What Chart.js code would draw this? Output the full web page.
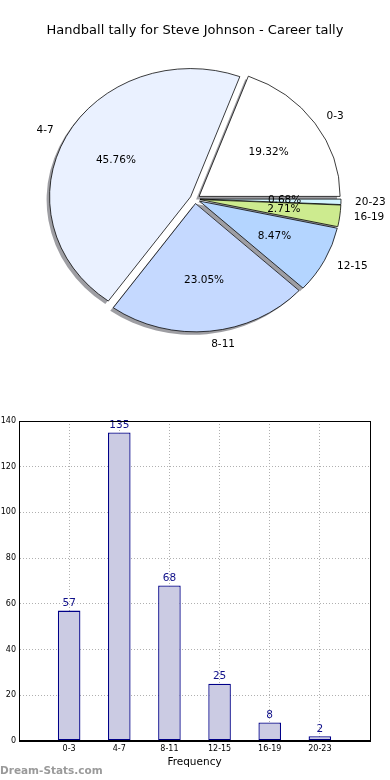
<!DOCTYPE html>
<html>
<head>
<meta charset="utf-8">
<script src="https://cdn.jsdelivr.net/npm/chart.js@4"></script>
<style>
  body { margin: 0; background: #fff; }
  #wrap { position: relative; width: 390px; height: 780px; overflow: hidden; }
  #pieChart { position: absolute; left: 0; top: 0; }
  #barChart { position: absolute; left: 0; top: 390px; }
  #mark { position: absolute; left: 0; top: 764px; font: bold 10.5px "DejaVu Sans", sans-serif; color: #9a9a9a; }
</style>
</head>
<body>
<div id="wrap">
  <canvas id="pieChart" width="390" height="390"></canvas>
  <canvas id="barChart" width="390" height="390"></canvas>
  <div id="mark">Dream-Stats.com</div>
</div>
<script>
const categories = ['0-3', '4-7', '8-11', '12-15', '16-19', '20-23'];
const counts = [57, 135, 68, 25, 8, 2];
const pieColors = ['#ffffff', '#eaf1ff', '#c5d9ff', '#b4d5ff', '#cdeb8f', '#d2f4ff'];
const yMax = 140;
const yStep = 20;

const total = counts.reduce((a, b) => a + b, 0);
const FONT = '"DejaVu Sans", sans-serif';

// matplotlib goes counter-clockwise from 3 o'clock, chart.js clockwise -> reverse
const pieLabels = categories.slice().reverse();
const pieValues = counts.slice().reverse();
const pieFill = pieColors.slice().reverse();

const EXPLODE = 5;      // px push of every wedge
const SQUASH = 0.91;    // axes not equal aspect, so the pie is an ellipse
const SHADOW = [-3, 3];

function ellipse(ctx, a) {
    ctx.translate(a.x, a.y);
    ctx.scale(1, SQUASH);
    ctx.translate(-a.x, -a.y);
}

const piePainter = {
    id: 'piePainter',
    beforeDatasetsDraw(chart) {
        const ctx = chart.ctx;
        const arcs = chart.getDatasetMeta(0).data;
        // shadows first, below all wedges
        ctx.save();
        ctx.translate(SHADOW[0], SHADOW[1]);
        ellipse(ctx, arcs[0]);
        ctx.fillStyle = 'rgba(40,40,50,0.45)';
        arcs.forEach(a => {
            const mid = (a.startAngle + a.endAngle) / 2;
            const x = a.x + Math.cos(mid) * EXPLODE, y = a.y + Math.sin(mid) * EXPLODE;
            ctx.beginPath();
            ctx.moveTo(x, y);
            ctx.arc(x, y, a.outerRadius, a.startAngle, a.endAngle);
            ctx.closePath();
            ctx.fill();
        });
        ctx.restore();
        // wedges
        ctx.save();
        ellipse(ctx, arcs[0]);
        arcs.forEach(a => {
            const mid = (a.startAngle + a.endAngle) / 2;
            ctx.save();
            ctx.translate(Math.cos(mid) * EXPLODE, Math.sin(mid) * EXPLODE);
            a.draw(ctx);
            ctx.restore();
        });
        ctx.restore();
        return false;
    },
    afterDraw(chart) {
        const ctx = chart.ctx;
        const arcs = chart.getDatasetMeta(0).data;
        ctx.save();
        ctx.fillStyle = '#000';
        ctx.font = '10.5px ' + FONT;
        ctx.textBaseline = 'middle';
        arcs.forEach((a, i) => {
            const mid = (a.startAngle + a.endAngle) / 2;
            const c = Math.cos(mid), s = Math.sin(mid);
            const R = a.outerRadius;
            const px = (k) => a.x + c * (EXPLODE + R * k);
            const py = (k) => a.y + s * (EXPLODE + R * k) * SQUASH;
            ctx.textAlign = c >= 0 ? 'left' : 'right';
            ctx.fillText(pieLabels[i], px(1.1), py(1.1));
            ctx.textAlign = 'center';
            ctx.fillText((pieValues[i] / total * 100).toFixed(2) + '%', px(0.6), py(0.6));
        });
        ctx.restore();
    }
};

new Chart(document.getElementById('pieChart'), {
    type: 'pie',
    data: {
        labels: pieLabels,
        datasets: [{
            data: pieValues,
            backgroundColor: pieFill,
            borderColor: '#000',
            borderWidth: 0.8
        }]
    },
    options: {
        responsive: false,
        animation: false,
        events: [],
        rotation: 90,
        radius: 141,
        layout: { padding: { bottom: 39.6 } },
        plugins: {
            legend: { display: false },
            tooltip: { enabled: false },
            title: {
                display: true,
                text: 'Handball tally for Steve Johnson - Career tally',
                color: '#000',
                font: { family: FONT, size: 13, weight: 'normal' },
                padding: { top: 23, bottom: 9 }
            }
        }
    },
    plugins: [piePainter]
});

const barPainter = {
    id: 'barPainter',
    afterDatasetsDraw(chart) {
        const ctx = chart.ctx;
        const area = chart.chartArea;
        ctx.save();
        ctx.fillStyle = '#10108a';
        ctx.font = '10.5px ' + FONT;
        ctx.textAlign = 'center';
        ctx.textBaseline = 'bottom';
        chart.getDatasetMeta(0).data.forEach((bar, i) => {
            ctx.fillText(String(counts[i]), bar.x, bar.y - 2);
        });
        ctx.strokeStyle = '#000';
        ctx.lineWidth = 1;
        ctx.strokeRect(Math.round(area.left) + 0.5, Math.round(area.top) + 0.5,
            Math.round(area.width), Math.round(area.height));
        ctx.restore();
    }
};

new Chart(document.getElementById('barChart'), {
    type: 'bar',
    data: {
        datasets: [{
            data: counts.map((v, i) => ({ x: i, y: v })),
            backgroundColor: '#cbcbe3',
            borderColor: '#000088',
            borderWidth: 1.3,
            borderSkipped: false,
            barPercentage: 0.45,
            categoryPercentage: 1
        }]
    },
    options: {
        responsive: false,
        animation: false,
        events: [],
        layout: { padding: { top: 31, right: 20, bottom: 9 } },
        plugins: { legend: { display: false }, tooltip: { enabled: false } },
        scales: {
            x: {
                type: 'linear',
                offset: false,
                min: -1,
                max: categories.length,
                grid: { color: '#b0b0b0', drawTicks: false, offset: false },
                border: { dash: [1, 2], color: '#000' },
                ticks: {
                    stepSize: 1,
                    autoSkip: false,
                    maxRotation: 0,
                    padding: 3,
                    color: '#000',
                    font: { family: FONT, size: 8 },
                    callback: (v) => categories[v] || ''
                },
                title: {
                    display: true,
                    text: 'Frequency',
                    color: '#000',
                    font: { family: FONT, size: 10.5 },
                    padding: { top: 0, bottom: 2 }
                }
            },
            y: {
                min: 0,
                max: yMax,
                afterFit: (s) => { s.width = 19; },
                grid: { color: '#b0b0b0', drawTicks: false },
                border: { dash: [1, 2], color: '#000' },
                ticks: {
                    stepSize: yStep,
                    padding: 3,
                    color: '#000',
                    font: { family: FONT, size: 8 }
                }
            }
        }
    },
    plugins: [barPainter]
});
</script>
</body>
</html>
